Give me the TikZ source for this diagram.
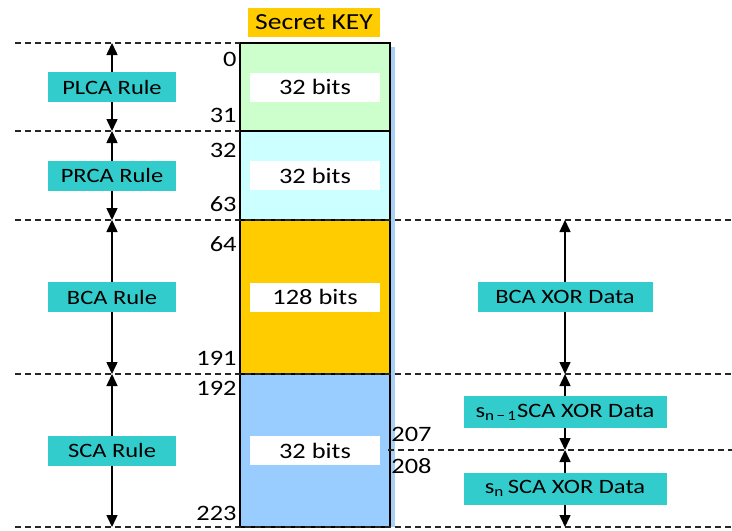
\documentclass[tikz,border=0pt]{standalone}
\usepackage{fontspec}
\setmainfont[FakeStretch=1.2]{Carlito}
\usetikzlibrary{positioning,arrows.meta}
\definecolor{keygreen}{HTML}{CCFFCC}
\definecolor{keycyan}{HTML}{CCFFFF}
\definecolor{keyorange}{HTML}{FFCC00}
\definecolor{keyblue}{HTML}{99CCFF}
\definecolor{keyshadow}{HTML}{A8D0F4}
\definecolor{ruleteal}{HTML}{33CCCC}
\begin{document}
\begin{tikzpicture}[x=0.5pt,y=-0.5pt,
    seg/.style={draw=black,line width=0.7pt,minimum width=75pt,inner sep=0pt,outer sep=0pt},
    bits/.style={fill=white,minimum width=65pt,minimum height=14.5pt,inner sep=0pt,font=\fontsize{11}{12}\selectfont},
    rule/.style={fill=ruleteal,minimum height=15pt,inner sep=0pt,font=\fontsize{10.2}{12}\selectfont},
    idx/.style={inner sep=1.5pt,font=\fontsize{11}{12}\selectfont},
    guide/.style={draw=black!85,line width=0.75pt,dash pattern=on 3pt off 2pt},
    span/.style={draw=black,line width=0.75pt,{Triangle[width=5.5pt,length=6pt]}-{Triangle[width=5.5pt,length=6pt]}}]
  \useasboundingbox (0,0) rectangle (732,530);
  % key shadow
  \fill[keyshadow] (390,47) rectangle (395,527);
  % key segments
  \node[seg,fill=keygreen,minimum height=44pt] (plca) at (315,87) {};
  \node[seg,fill=keycyan,minimum height=44.5pt,below=0pt of plca] (prca) {};
  \node[seg,fill=keyorange,minimum height=77pt,below=0pt of prca] (bca) {};
  \node[seg,fill=keyblue,minimum height=76.5pt,below=0pt of bca] (sca) {};
  \node[fill=keyorange,minimum width=66pt,minimum height=14.5pt,inner sep=0pt,
        font=\fontsize{11.5}{12}\selectfont] (title) at (314,22.5) {Secret KEY};
  \node[bits] at (plca) {32 bits};
  \node[bits] at (prca) {32 bits};
  \node[bits] at (bca) {128 bits};
  \node[bits] at (sca) {32 bits};
  % bit indices
  \node[idx,anchor=north east] at ([yshift=-3pt]plca.north west) {0};
  \node[idx,anchor=south east] at ([yshift=2.5pt]plca.south west) {31};
  \node[idx,anchor=north east] at ([yshift=-4.5pt]prca.north west) {32};
  \node[idx,anchor=south east] at ([yshift=2.5pt]prca.south west) {63};
  \node[idx,anchor=north east] at ([yshift=-6.5pt]bca.north west) {64};
  \node[idx,anchor=south east] at ([yshift=2.5pt]bca.south west) {191};
  \node[idx,anchor=north east] at ([yshift=-2pt]sca.north west) {192};
  \node[idx,anchor=south east] at ([yshift=1.5pt]sca.south west) {223};
  \coordinate (split) at (388,450);
  \node[idx,anchor=south west] at ([yshift=2.5pt]split) {207};
  \node[idx,anchor=north west] at ([yshift=-2.5pt]split) {208};
  % guide lines
  \draw[guide] (15,43) -- (plca.north west);
  \draw[guide] (15,131) -- (plca.south west);
  \draw[guide] (15,220) -- (732,220);
  \draw[guide] (15,374) -- (732,374);
  \draw[guide] (split) -- (732,450);
  \draw[guide] (15,527) -- (732,527);
  % spans
  \foreach \y [count=\i] in {43,131,220,374,527}
    \coordinate (L\i) at (112,\y);
  \coordinate (R1) at (565,220);
  \coordinate (R2) at (565,374);
  \coordinate (R3) at (565,450);
  \coordinate (R4) at (565,527);
  \draw[span] (L1) -- node[rule,minimum width=64pt] {PLCA Rule} (L2);
  \draw[span] (L2) -- node[rule,minimum width=64pt] {PRCA Rule} (L3);
  \draw[span] (L3) -- node[rule,minimum width=64pt] {BCA Rule} (L4);
  \draw[span] (L4) -- node[rule,minimum width=64pt] {SCA Rule} (L5);
  \draw[span] (R1) -- node[rule,minimum width=87.5pt] {BCA XOR Data} (R2);
  \draw[span] (R2) -- node[rule,minimum width=101.5pt,minimum height=16pt] {s\textsubscript{n\,−\,1}SCA XOR Data} (R3);
  \draw[span] (R3) -- node[rule,minimum width=101.5pt,minimum height=16pt] {s\textsubscript{n}\,SCA XOR Data} (R4);
\end{tikzpicture}
\end{document}
